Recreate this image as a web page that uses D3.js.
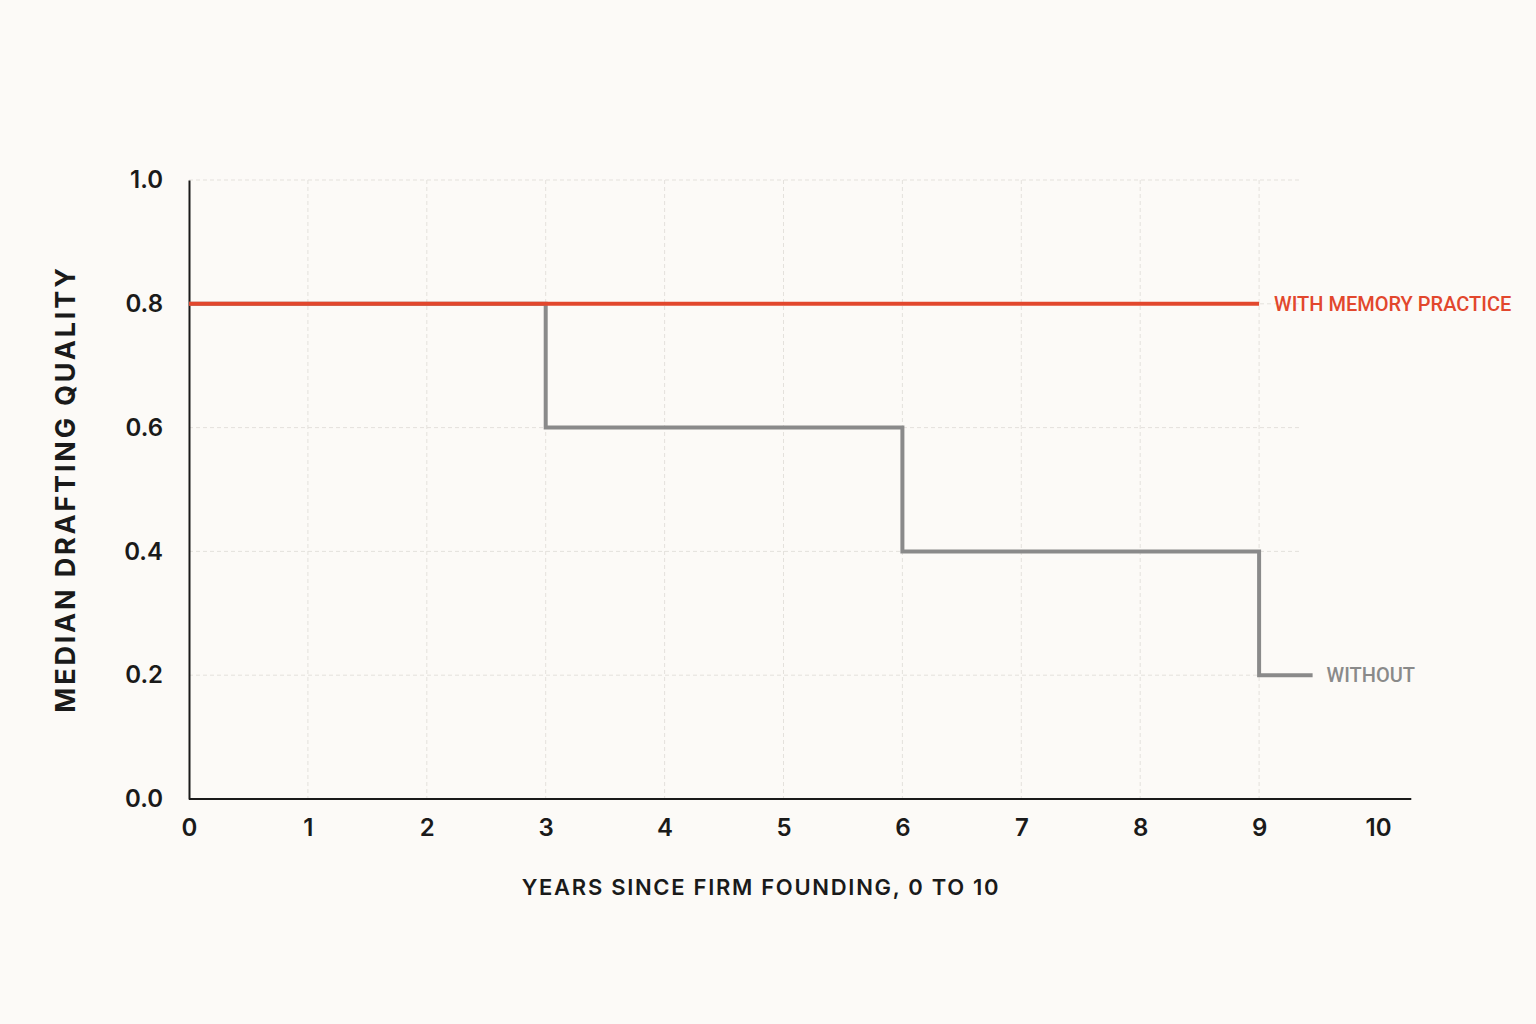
<!DOCTYPE html>
<html>
<head>
<meta charset="utf-8">
<script src="https://cdn.jsdelivr.net/npm/d3@7"></script>
<style>
  body { margin: 0; background: #fcfaf7; }
  svg { display: block; }
</style>
</head>
<body>
<script>
// Chart data
const years = [0, 1, 2, 3, 4, 5, 6, 7, 8, 9, 10];
const yTicks = [0, 0.2, 0.4, 0.6, 0.8, 1.0];
// with memory practice: flat
const withX = [0, 9];
const withY = [0.8, 0.8];
// without: drops every three years
const withoutX = [0, 3, 6, 9, 9.45];
const withoutY = [0.8, 0.6, 0.4, 0.2, 0.2];

const width = 1536, height = 1024;
const mLeft = 189, mRight = 1378, mTop = 180, mBottom = 799;

const svg = d3.select('body').append('svg')
  .attr('width', width)
  .attr('height', height);

svg.append('rect').attr('width', width).attr('height', height).attr('fill', '#fcfaf7');

const x = d3.scaleLinear().domain([0, 10]).range([mLeft, mRight]);
const y = d3.scaleLinear().domain([0, 1]).range([mBottom, mTop]);

const font = 'Inter, "Noto Sans", sans-serif';
const labelFont = 'Roboto, "Noto Sans", sans-serif';

// grid
svg.append('g').selectAll('line').data(years.filter(d => d > 0 && d < 10))
  .join('line')
  .attr('x1', d => x(d)).attr('x2', d => x(d))
  .attr('y1', y(1)).attr('y2', y(0))
  .attr('stroke', '#e4e1dc').attr('stroke-width', 1).attr('stroke-dasharray', '4,3');
svg.append('g').selectAll('line').data(yTicks.filter(d => d > 0))
  .join('line')
  .attr('x1', x(0)).attr('x2', x(9.36))
  .attr('y1', d => y(d)).attr('y2', d => y(d))
  .attr('stroke', '#e4e1dc').attr('stroke-width', 1).attr('stroke-dasharray', '4,3');

// axes
const xAxis = svg.append('g')
  .attr('transform', `translate(0,${mBottom})`)
  .call(d3.axisBottom(x).tickValues(years).tickSize(0).tickPadding(20));
xAxis.select('.domain').attr('d', `M${x(0)},0H${x(10.28)}`).attr('stroke', '#1a1a1a').attr('stroke-width', 2);
xAxis.selectAll('text').attr('font-family', font).attr('font-size', 24).attr('font-weight', 600).attr('fill', '#1a1a1a');

const yAxis = svg.append('g')
  .attr('transform', `translate(${mLeft},0)`)
  .call(d3.axisLeft(y).tickValues(yTicks).tickFormat(d3.format('.1f')).tickSize(0).tickPadding(26));
yAxis.select('.domain').attr('stroke', '#1a1a1a').attr('stroke-width', 2);
yAxis.selectAll('text').attr('font-family', font).attr('font-size', 24).attr('font-weight', 600).attr('fill', '#1a1a1a');

// lines
const line = d3.line().curve(d3.curveStepAfter).x(d => x(d[0])).y(d => y(d[1]));

svg.append('path')
  .datum(d3.zip(withoutX, withoutY))
  .attr('d', line)
  .attr('fill', 'none').attr('stroke', '#8a8a8a').attr('stroke-width', 4);

svg.append('path')
  .datum(d3.zip(withX, withY))
  .attr('d', line)
  .attr('fill', 'none').attr('stroke', '#e2472d').attr('stroke-width', 4);

// direct labels
svg.append('text')
  .attr('x', x(withX[withX.length - 1]) + 15)
  .attr('y', y(withY[withY.length - 1]))
  .attr('dy', '0.36em')
  .attr('font-family', labelFont).attr('font-size', 20).attr('font-weight', 500)
  .attr('fill', '#e2472d')
  .text('WITH MEMORY PRACTICE');

svg.append('text')
  .attr('x', x(withoutX[withoutX.length - 1]) + 14)
  .attr('y', y(withoutY[withoutY.length - 1]))
  .attr('dy', '0.36em')
  .attr('font-family', labelFont).attr('font-size', 20).attr('font-weight', 500)
  .attr('fill', '#8a8a8a')
  .text('WITHOUT');

// axis titles
svg.append('text')
  .attr('x', 761).attr('y', 895)
  .attr('text-anchor', 'middle')
  .attr('font-family', font).attr('font-size', 22).attr('font-weight', 600)
  .attr('letter-spacing', 1.7).attr('fill', '#1a1a1a')
  .text('YEARS SINCE FIRM FOUNDING, 0 TO 10');

svg.append('text')
  .attr('transform', 'translate(75,489) rotate(-90)')
  .attr('text-anchor', 'middle')
  .attr('font-family', font).attr('font-size', 27).attr('font-weight', 700)
  .attr('letter-spacing', 2.8).attr('fill', '#1a1a1a')
  .text('MEDIAN DRAFTING QUALITY');
</script>
</body>
</html>
